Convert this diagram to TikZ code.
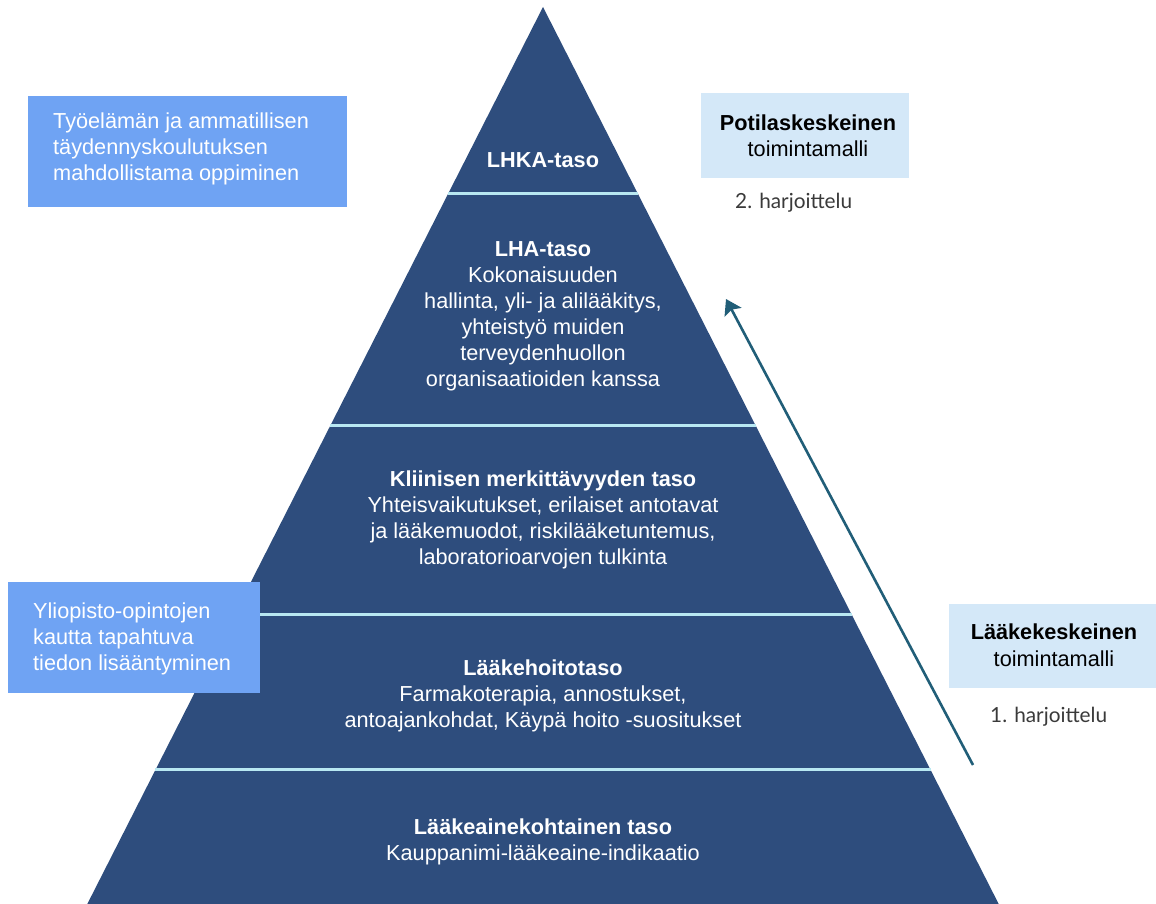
\documentclass[tikz,border=0pt]{standalone}
\usepackage{fontspec}
\setmainfont{Liberation Sans}
\newfontfamily\latofont{Lato}
\usetikzlibrary{arrows.meta,calc}
\definecolor{pyr}{HTML}{2E4D7D}
\definecolor{sepc}{HTML}{B8E8F2}
\definecolor{lboxc}{HTML}{6FA3F3}
\definecolor{rboxc}{HTML}{D4E8F8}
\definecolor{arrc}{HTML}{215E78}
\definecolor{notec}{HTML}{3A3A3A}
\begin{document}
\begin{tikzpicture}[x=1pt,y=-1pt,
  ptext/.style={text=white, align=center, anchor=base, inner sep=0pt, font=\fontsize{21.7}{26}\selectfont},
  ltext/.style={text=white, align=left, anchor=base west, inner sep=0pt, font=\fontsize{21.7}{26}\selectfont},
  rtext/.style={text=black, align=center, anchor=base, inner sep=0pt, font=\fontsize{21.7}{26.5}\selectfont},
  ntext/.style={text=notec, anchor=base west, inner sep=0pt, font=\latofont\fontsize{20.8}{26}\selectfont},
  seprule/.style={draw=sepc, line width=3pt},
  arrowline/.style={draw=arrc, line width=2.6pt, -{Stealth[length=15pt,width=19pt,inset=3pt]}}]
\useasboundingbox (0,0) rectangle (1156,904);
\fill[white] (0,0) rectangle (1156,904);
% pyramid
\coordinate (apex) at (543,7);
\coordinate (bl) at (87.3,904);
\coordinate (br) at (998.7,904);
\fill[pyr] (apex) -- (br) -- (bl) -- cycle;
\foreach \t in {0.2074,0.4671,0.6778,0.8506}
  \draw[seprule] ($(apex)!\t!(bl)$) -- ($(apex)!\t!(br)$);
% pyramid texts (anchor = baseline of last line)
\node[ptext] (lhka) at (543,168) {\textbf{LHKA-taso}};
\node[ptext] (lha) at (543,386) {\textbf{LHA-taso}\\Kokonaisuuden\\hallinta, yli- ja alilääkitys,\\yhteistyö muiden\\terveydenhuollon\\organisaatioiden kanssa};
\node[ptext] (klin) at (543,564) {\textbf{Kliinisen merkittävyyden taso}\\Yhteisvaikutukset, erilaiset antotavat\\ja lääkemuodot, riskilääketuntemus,\\laboratorioarvojen tulkinta};
\node[ptext] (hoito) at (543,727) {\textbf{Lääkehoitotaso}\\Farmakoterapia, annostukset,\\antoajankohdat, Käypä hoito -suositukset};
\node[ptext] (aine) at (543,860) {\textbf{Lääkeainekohtainen taso}\\Kauppanimi-lääkeaine-indikaatio};
% left boxes
\fill[lboxc] (28,96) rectangle (347,207);
\node[ltext] (tyo) at (53,181) {Työelämän ja ammatillisen\\täydennyskoulutuksen\\mahdollistama oppiminen};
\fill[lboxc] (8,582) rectangle (260,693);
\node[ltext] (yli) at (33,670) {Yliopisto-opintojen\\kautta tapahtuva\\tiedon lisääntyminen};
% right boxes
\fill[rboxc] (701,93) rectangle (909,178);
\node[rtext] (poti) at (808,157) {\textbf{Potilaskeskeinen}\\toimintamalli};
\node[ntext] (h2) at (735,208) {2. harjoittelu};
\fill[rboxc] (949,604) rectangle (1156,688);
\node[rtext] (laake) at (1054,666) {\textbf{Lääkekeskeinen}\\toimintamalli};
\node[ntext] (h1) at (990,722) {1. harjoittelu};
% arrow
\coordinate (atail) at (973,765);
\coordinate (ahead) at (726,299);
\draw[arrowline] (atail) -- (ahead);
\end{tikzpicture}
\end{document}
